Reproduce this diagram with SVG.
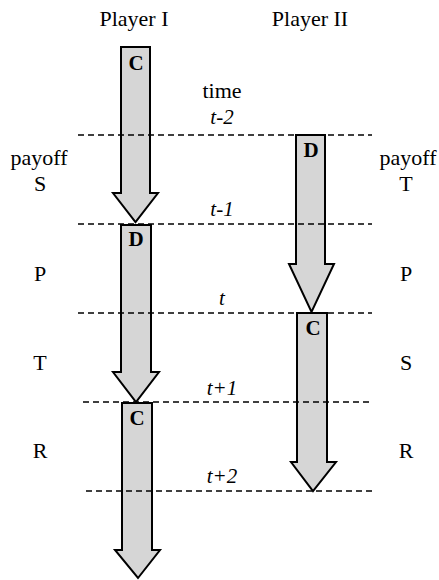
<svg xmlns="http://www.w3.org/2000/svg" width="439" height="580" viewBox="0 0 439 580">
<style>
.lbl{font-family:"Liberation Serif","Times New Roman",serif;font-size:22px;fill:#000;text-anchor:middle}
.tm{font-family:"Liberation Serif","Times New Roman",serif;font-size:21px;font-style:italic;fill:#000;text-anchor:middle}
.mv{font-family:"Liberation Serif","Times New Roman",serif;font-size:21px;font-weight:bold;fill:#000;text-anchor:middle}
.arrow{fill:#d6d6d6;stroke:#000;stroke-width:2;stroke-linejoin:miter}
.dash{stroke:#000;stroke-width:1.4;stroke-dasharray:6 4;fill:none}
</style>
<rect width="439" height="580" fill="#fff"/>
<g id="headers">
<text class="lbl" x="134" y="26">Player I</text>
<text class="lbl" x="310" y="26">Player II</text>
<text class="lbl" x="222" y="98">time</text>
</g>
<g id="p1-move1">
<polygon class="arrow" points="121,47 150,47 150,193 158,193 135.5,222 113,193 121,193"/>
<text class="mv" x="136" y="70">C</text>
</g>
<g id="p1-move2">
<polygon class="arrow" points="121,225 151,225 151,372 159,372 136,402 113,372 121,372"/>
<text class="mv" x="136" y="246">D</text>
</g>
<g id="p1-move3">
<polygon class="arrow" points="122,403 152,403 152,550 160,550 138,578 115,550 122,550"/>
<text class="mv" x="137" y="425">C</text>
</g>
<g id="p2-move1">
<polygon class="arrow" points="296,135 325,135 325,264 334,264 311.5,312 289,264 296,264"/>
<text class="mv" x="311" y="157">D</text>
</g>
<g id="p2-move2">
<polygon class="arrow" points="297,313 327,313 327,462 336,462 313,491 291,462 297,462"/>
<text class="mv" x="313" y="335">C</text>
</g>
<g id="connectors">
<line class="dash" x1="78" y1="135" x2="372" y2="135"/>
<line class="dash" x1="78" y1="224" x2="372" y2="224"/>
<line class="dash" x1="78" y1="313" x2="372" y2="313"/>
<line class="dash" x1="83" y1="402" x2="372" y2="402"/>
<line class="dash" x1="86" y1="491" x2="372" y2="491"/>
</g>
<g id="time-labels">
<text class="tm" x="222" y="124">t-2</text>
<text class="tm" x="222" y="216">t-1</text>
<text class="tm" x="222" y="305">t</text>
<text class="tm" x="222" y="395">t+1</text>
<text class="tm" x="222" y="483">t+2</text>
</g>
<g id="payoff-left">
<text class="lbl" x="39" y="165">payoff</text>
<text class="lbl" x="40" y="191">S</text>
<text class="lbl" x="40" y="281">P</text>
<text class="lbl" x="40" y="370">T</text>
<text class="lbl" x="40" y="458">R</text>
</g>
<g id="payoff-right">
<text class="lbl" x="408" y="165">payoff</text>
<text class="lbl" x="406" y="191">T</text>
<text class="lbl" x="406" y="281">P</text>
<text class="lbl" x="406" y="370">S</text>
<text class="lbl" x="406" y="458">R</text>
</g>
</svg>
